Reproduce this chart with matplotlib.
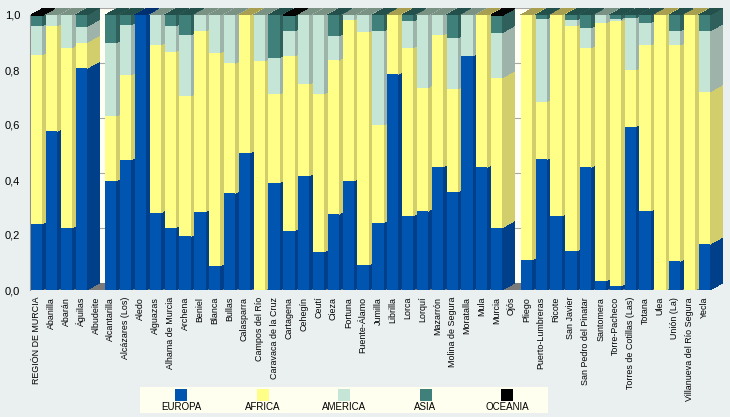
import matplotlib
matplotlib.use("Agg")
import matplotlib.pyplot as plt
from matplotlib.patches import Polygon, Rectangle
from matplotlib import font_manager

# ---------------- data ----------------
municipios = [
    "REGIÓN DE MURCIA", "Abanilla", "Abarán", "Águilas", "Albudeite",
    "Alcantarilla", "Alcázares (Los)", "Aledo", "Alguazas", "Alhama de Murcia",
    "Archena", "Beniel", "Blanca", "Bullas", "Calasparra", "Campos del Río",
    "Caravaca de la Cruz", "Cartagena", "Cehegín", "Ceutí", "Cieza", "Fortuna",
    "Fuente-Álamo", "Jumilla", "Librilla", "Lorca", "Lorquí", "Mazarrón",
    "Molina de Segura", "Moratalla", "Mula", "Murcia", "Ojós", "Pliego",
    "Puerto-Lumbreras", "Ricote", "San Javier", "San Pedro del Pinatar",
    "Santomera", "Torre-Pacheco", "Torres de Cotillas (Las)", "Totana", "Ulea",
    "Unión (La)", "Villanueva del Río Segura", "Yecla",
]
europa = [0.240, 0.577, 0.226, 0.806, 0.0, 0.397, 0.473, 1.000, 0.281, 0.227,
          0.195, 0.285, 0.088, 0.351, 0.499, 0.000, 0.390, 0.216, 0.416, 0.138,
          0.276, 0.397, 0.091, 0.245, 0.785, 0.269, 0.287, 0.447, 0.356, 0.851,
          0.447, 0.227, 0.0, 0.110, 0.475, 0.269, 0.142, 0.447, 0.033, 0.015,
          0.594, 0.287, 0.000, 0.105, 0.000, 0.167]
africa = [0.615, 0.383, 0.655, 0.094, 0.0, 0.236, 0.309, 0.000, 0.610, 0.640,
          0.510, 0.657, 0.775, 0.473, 0.501, 0.833, 0.323, 0.635, 0.333, 0.575,
          0.560, 0.585, 0.847, 0.355, 0.215, 0.612, 0.449, 0.480, 0.375, 0.000,
          0.553, 0.545, 0.0, 0.890, 0.210, 0.731, 0.818, 0.434, 0.939, 0.963,
          0.206, 0.604, 1.000, 0.786, 1.000, 0.554]
america = [0.105, 0.040, 0.119, 0.058, 0.0, 0.267, 0.182, 0.000, 0.109, 0.093,
           0.222, 0.058, 0.137, 0.176, 0.000, 0.167, 0.132, 0.091, 0.251, 0.287,
           0.088, 0.018, 0.062, 0.342, 0.000, 0.097, 0.264, 0.073, 0.186, 0.149,
           0.000, 0.164, 0.0, 0.000, 0.300, 0.000, 0.022, 0.073, 0.028, 0.007,
           0.190, 0.081, 0.000, 0.051, 0.000, 0.221]
asia = [0.038, 0.000, 0.000, 0.042, 0.0, 0.100, 0.036, 0.000, 0.000, 0.040,
        0.073, 0.000, 0.000, 0.000, 0.000, 0.000, 0.155, 0.055, 0.000, 0.000,
        0.076, 0.000, 0.000, 0.058, 0.000, 0.022, 0.000, 0.000, 0.083, 0.000,
        0.000, 0.062, 0.0, 0.000, 0.015, 0.000, 0.018, 0.046, 0.000, 0.015,
        0.010, 0.028, 0.000, 0.058, 0.000, 0.058]
oceania = [0.002, 0, 0, 0, 0, 0, 0, 0, 0, 0,
           0, 0, 0, 0, 0, 0, 0, 0.003, 0, 0,
           0, 0, 0, 0, 0, 0, 0, 0, 0, 0,
           0, 0.002, 0, 0, 0, 0, 0, 0, 0, 0,
           0, 0, 0, 0, 0, 0]
series_names = ["EUROPA", "AFRICA", "AMERICA", "ASIA", "OCEANIA"]
yticks = [0.0, 0.2, 0.4, 0.6, 0.8, 1.0]
ytick_labels = ["0,0", "0,2", "0,4", "0,6", "0,8", "1,0"]

# ---------------- style ----------------
front_colors = ["#0055B0", "#FFFF88", "#C5E6D6", "#3F807B", "#000000"]
side_colors = ["#00408A", "#D2CE6C", "#9EB4AA", "#2F605C", "#000000"]
top_colors = ["#003070", "#A8A050", "#7A9284", "#24504C", "#050505"]
bg = "#EAF0F0"


def has_font(name):
    try:
        font_manager.findfont(font_manager.FontProperties(family=name),
                              fallback_to_default=False)
        return True
    except Exception:
        return False


if has_font("Liberation Sans Narrow"):
    xlab_family, xlab_size = ["Liberation Sans Narrow", "DejaVu Sans"], 7.5
else:
    xlab_family, xlab_size = ["Liberation Sans", "DejaVu Sans"], 6.4

W, H = 730, 417
fig = plt.figure(figsize=(W / 100, H / 100), dpi=100, facecolor=bg)

n = len(municipios)
step_px = 14.84
unit_px = 275.0
bar_w = 0.76
dx = 12.5 / step_px
dy = 7.0 / unit_px
x_left = -bar_w / 2 - 1.0 / step_px
x_right = (n - 1) + bar_w / 2 + dx
ax_left_px, ax_bottom_px = 30, 290
ax_w_px = (x_right - x_left) * step_px
ax_h_px = unit_px * (1 + dy)
ax = fig.add_axes([ax_left_px / W, (H - ax_bottom_px) / H, ax_w_px / W, ax_h_px / H])
ax.set_xlim(x_left, x_right)
ax.set_ylim(0, 1 + dy)
ax.set_facecolor("none")

# walls / floor / grid
ax.add_patch(Rectangle((x_left + dx, dy), x_right - x_left - dx, 1.0,
                       facecolor="#FFFFF4", edgecolor="#A8A8A8", lw=0.8, zorder=0.5))
ax.add_patch(Polygon([(x_left, 0), (x_left + dx, dy), (x_left + dx, 1 + dy), (x_left, 1)],
                     closed=True, facecolor="#E4E4E4", edgecolor="none", zorder=0.55))
for yv in yticks[1:-1]:
    ax.plot([x_left + dx, x_right], [yv + dy, yv + dy], color="#A8A8A8", lw=0.8, zorder=0.6)
ax.add_patch(Polygon([(x_left, 0), (x_right - dx, 0), (x_right, dy), (x_left + dx, dy)],
                     closed=True, facecolor="#7A7A7A", edgecolor="none", zorder=0.7))

series = [europa, africa, america, asia, oceania]
xs = list(range(n))
bottoms = [0.0] * n
for k, vals in enumerate(series):
    bars = ax.bar(xs, vals, width=bar_w, bottom=bottoms, color=front_colors[k],
                  linewidth=0, antialiased=False)
    for i, p in enumerate(bars.patches):
        p.set_zorder(3 + 0.01 * i + 0.005)
        b = bottoms[i]
        t = b + vals[i]
        if vals[i] > 0:
            x1 = i + bar_w / 2
            ax.add_patch(Polygon([(x1, b), (x1 + dx, b + dy), (x1 + dx, t + dy), (x1, t)],
                                 closed=True, facecolor=side_colors[k], edgecolor="none",
                                 antialiased=False, zorder=3 + 0.01 * i))
    bottoms = [bottoms[i] + vals[i] for i in range(n)]

# top faces with colour of the top-most non-empty segment
for i in range(n):
    top_k = None
    for k, vals in enumerate(series):
        if vals[i] > 0:
            top_k = k
    if top_k is None:
        continue
    T = bottoms[i]
    x0, x1 = i - bar_w / 2, i + bar_w / 2
    ax.add_patch(Polygon([(x0, T), (x1, T), (x1 + dx, T + dy), (x0 + dx, T + dy)],
                         closed=True, facecolor=top_colors[top_k], edgecolor="none",
                         antialiased=False, zorder=3 + 0.01 * i + 0.002))

# axes cosmetics
for s in ["top", "right", "bottom"]:
    ax.spines[s].set_visible(False)
ax.spines["left"].set_color("#909090")
ax.spines["left"].set_bounds(0, 1)
ax.spines["left"].set_zorder(2.5)
ax.set_yticks(yticks)
ax.set_yticklabels(ytick_labels, fontsize=8, family=["Liberation Sans", "DejaVu Sans"], color="#000000")
ax.set_xticks(xs)
ax.set_xticklabels(municipios, rotation=90, fontsize=xlab_size, va="top", ha="center",
                   family=xlab_family)
ax.tick_params(axis="y", length=0, pad=7)
ax.tick_params(axis="x", length=0, pad=5)

# truncated title at the very top (only its lowest pixels are visible)
fig.text(343 / W, 1 + 0.5 / H, "CONTINENTES", color="#B00000", fontsize=9, fontweight="bold",
         ha="center", va="baseline", family=["Liberation Sans", "DejaVu Sans"])

# legend (manual: square above label)
leg_l, leg_t, leg_w, leg_h = 140, 387, 408, 26
fig.add_artist(Rectangle((leg_l / W, 1 - (leg_t + leg_h) / H), leg_w / W, leg_h / H,
                         transform=fig.transFigure, facecolor="#FFFFF0", edgecolor="none"))
first_c, spacing = 181, 81.5
sq = 12
for k, name in enumerate(series_names):
    cx = first_c + spacing * k
    fig.add_artist(Rectangle(((cx - sq / 2) / W, 1 - (389 + sq) / H), sq / W, sq / H,
                             transform=fig.transFigure, facecolor=front_colors[k],
                             edgecolor="none"))
    fig.text(cx / W, 1 - 407 / H, name, ha="center", va="center", fontsize=7,
             family=["Liberation Sans", "DejaVu Sans"])

fig.savefig("out.png", dpi=100, facecolor=bg)
